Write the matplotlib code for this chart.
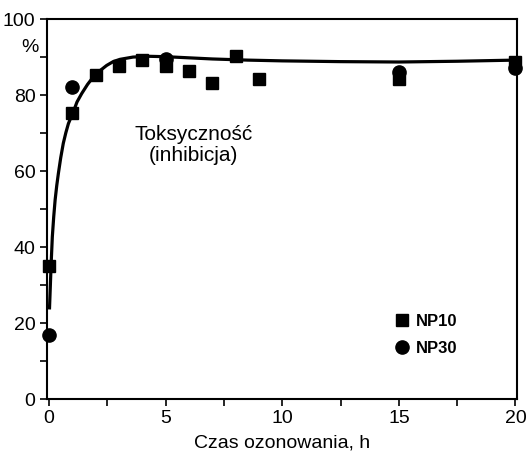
import matplotlib
matplotlib.use("Agg")
import matplotlib.pyplot as plt
from matplotlib.lines import Line2D

plt.rcParams['font.family'] = ['Liberation Sans', 'DejaVu Sans']

# czas ozonowania (h) i toksycznosc (%)
t_np10 = [0, 1, 2, 3, 4, 5, 6, 7, 8, 9, 15, 20]
tox_np10 = [35, 75.2, 85.2, 87.6, 89.3, 87.7, 86.3, 83.2, 90.3, 84.3, 84.3, 88.8]

t_np30 = [0, 1, 5, 15, 20]
tox_np30 = [16.8, 82.2, 89.6, 86.1, 87.0]

# krzywa dopasowania
t_fit = [0.02, 0.05, 0.09, 0.14, 0.2, 0.26, 0.33, 0.4, 0.5, 0.61, 0.72, 0.83, 1.04,
         1.2, 1.4, 1.65, 1.9, 2.2, 2.47, 2.75, 3.04, 3.6, 4.3, 5.0, 6.0, 7.0, 8.5,
         10.0, 12.5, 15.0, 17.5, 20.0]
tox_fit = [24.0, 29.0, 35.7, 42.7, 48.0, 52.4, 56.2, 59.4, 63.5, 67.3, 70.1, 72.5, 75.6,
           78.2, 80.4, 82.8, 84.8, 86.5, 87.8, 88.8, 89.4, 90.0, 90.2, 90.1, 89.8, 89.5,
           89.2, 89.0, 88.8, 88.7, 88.9, 89.2]

fig = plt.figure(figsize=(5.31, 4.54), dpi=100)
ax = fig.add_axes([0.088, 0.121, 0.885, 0.837])

ax.plot(t_fit, tox_fit, color='black', lw=2.3, zorder=2)
ax.plot(t_np10, tox_np10, 's', color='black', ms=8.5, clip_on=False, zorder=3)
ax.plot(t_np30, tox_np30, 'o', color='black', ms=9.5, clip_on=False, zorder=3)

ax.set_xlim(-0.1, 20.05)
ax.set_ylim(0, 100)
ax.set_xticks([0, 5, 10, 15, 20])
ax.set_xticks([2.5, 7.5, 12.5, 17.5], minor=True)
ax.set_yticks([0, 20, 40, 60, 80, 100])
ax.set_yticks([10, 30, 50, 70, 90], minor=True)
ax.tick_params(which='both', direction='out', length=5, width=1.2, labelsize=14, pad=3)
for s in ax.spines.values():
    s.set_linewidth(1.5)

ax.set_xlabel('Czas ozonowania, h', fontsize=14, labelpad=5.5)
fig.text(30/531, 1 - 47/454, '%', fontsize=14, ha='center', va='center')

ax.text(6.2, 66.8, 'Toksyczność\n(inhibicja)', fontsize=15, ha='center', va='center',
        multialignment='center', linespacing=1.15)

handles = [Line2D([], [], ls='none', marker='s', color='black', ms=8.5),
           Line2D([], [], ls='none', marker='o', color='black', ms=9.5)]
ax.legend(handles, ['NP10', 'NP30'], loc='upper left', bbox_to_anchor=(0.742, 0.224),
          frameon=False, handlelength=0.8, handletextpad=0.4, labelspacing=0.7,
          borderpad=0, borderaxespad=0, prop={'weight': 'bold', 'size': 12})

fig.savefig('out.png', dpi=100)
